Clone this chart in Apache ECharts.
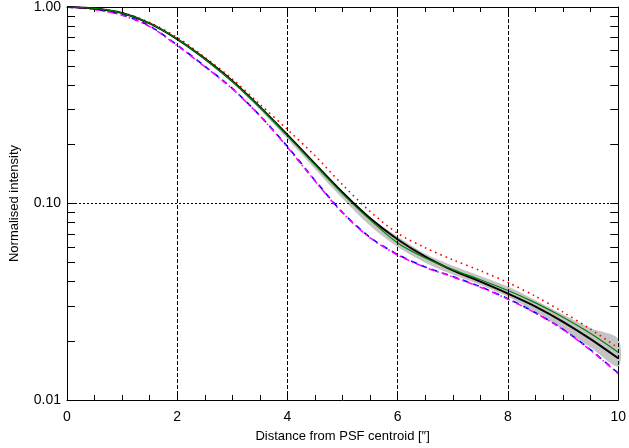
<!DOCTYPE html>
<html>
<head>
<meta charset="utf-8">
<script src="https://cdn.jsdelivr.net/npm/echarts@6/dist/echarts.min.js"></script>
<style>
  html, body { margin: 0; padding: 0; background: #fff; }
  #main { width: 629px; height: 448px; }
</style>
</head>
<body>
<div id="main"></div>
<script>
// radius in arcsec
var radius = [0, 0.5, 1, 1.5, 2, 2.5, 3, 3.5, 4, 4.5, 5, 5.5, 6, 6.5, 7, 7.5, 8, 8.5, 9, 9.5, 10];

var blackVals   = [1.0, 0.983, 0.932, 0.826, 0.687, 0.546, 0.42, 0.31, 0.2234, 0.159, 0.1138, 0.0841, 0.0656, 0.0537, 0.0457, 0.040, 0.0348, 0.0299, 0.025, 0.0204, 0.0163];
var greenVals   = [1.0, 0.983, 0.932, 0.826, 0.687, 0.544, 0.418, 0.308, 0.221, 0.157, 0.112, 0.0825, 0.063, 0.0528, 0.0461, 0.0409, 0.0361, 0.0312, 0.0264, 0.0218, 0.0175];
var redVals     = [1.0, 0.985, 0.937, 0.833, 0.70, 0.555, 0.43, 0.32, 0.238, 0.175, 0.1245, 0.091, 0.0705, 0.0595, 0.0517, 0.0455, 0.0396, 0.0337, 0.028, 0.0229, 0.0184];
var blueVals    = [1.0, 0.975, 0.912, 0.80, 0.64, 0.5, 0.385, 0.28, 0.195, 0.131, 0.09, 0.0672, 0.055, 0.0475, 0.0425, 0.0377, 0.0328, 0.0278, 0.0229, 0.018, 0.0137];
var magentaVals = [1.0, 0.973, 0.908, 0.795, 0.636, 0.497, 0.383, 0.279, 0.193, 0.13, 0.0895, 0.0668, 0.0547, 0.0473, 0.0423, 0.0375, 0.0326, 0.0277, 0.0228, 0.0179, 0.0136];
var bandLow     = [1.0, 0.981, 0.927, 0.818, 0.678, 0.535, 0.41, 0.30, 0.213, 0.15, 0.106, 0.077, 0.060, 0.050, 0.0435, 0.0385, 0.0335, 0.028, 0.0228, 0.0185, 0.0148];
var bandHigh    = [1.0, 0.985, 0.936, 0.831, 0.692, 0.55, 0.423, 0.312, 0.226, 0.161, 0.115, 0.085, 0.0677, 0.0555, 0.0482, 0.0428, 0.0378, 0.0322, 0.0272, 0.0232, 0.0205];

var yTicks = [0.01, 0.02, 0.03, 0.04, 0.05, 0.06, 0.07, 0.08, 0.09,
              0.1, 0.2, 0.3, 0.4, 0.5, 0.6, 0.7, 0.8, 0.9, 1.0];
var yLabels = [0.01, 0.1, 1.0];
var yGrid = [0.1];

function pairs(vals) {
    return radius.map(function (r, i) { return [r, vals[i]]; });
}

var font = 'Liberation Sans';
var chart = echarts.init(document.getElementById('main'));

var axisLine = { show: true, onZero: false, lineStyle: { color: '#000', width: 1 } };

// grey uncertainty band as one polygon through the axis scales
function renderBand(params, api) {
    if (params.dataIndex !== 0) return;
    var pts = [];
    for (var i = 0; i < radius.length; i++) pts.push(api.coord([radius[i], bandHigh[i]]));
    for (var j = radius.length - 1; j >= 0; j--) pts.push(api.coord([radius[j], bandLow[j]]));
    return {
        type: 'polygon',
        shape: { points: pts, smooth: 0.3 },
        style: { fill: '#c4c4c4', stroke: null }
    };
}

chart.setOption({
    animation: false,
    backgroundColor: '#fff',
    grid: { left: 64, right: 9, top: 5, bottom: 47 },
    xAxis: [
        {
            type: 'value', min: 0, max: 10, interval: 2,
            name: 'Distance from PSF centroid [\u2033]',
            nameLocation: 'middle', nameGap: 30,
            nameTextStyle: { fontFamily: font, fontSize: 13, color: '#000' },
            axisLine: axisLine,
            axisTick: { show: true, inside: true, length: 6, lineStyle: { color: '#000' } },
            minorTick: { show: true, splitNumber: 4, length: 5, lineStyle: { color: '#000' } },
            axisLabel: { fontFamily: font, fontSize: 14, color: '#000', margin: 10 },
            splitLine: { show: true, lineStyle: { color: '#000', type: [4, 2], width: 1 } },
            z: 5
        },
        {
            type: 'value', min: 0, max: 10, interval: 2, position: 'top',
            axisLine: axisLine,
            axisTick: { show: true, inside: true, length: 6, lineStyle: { color: '#000' } },
            minorTick: { show: true, splitNumber: 4, length: 5, lineStyle: { color: '#000' } },
            axisLabel: { show: false },
            splitLine: { show: false }
        }
    ],
    yAxis: [
        {
            type: 'log', logBase: 10, min: 0.01, max: 1,
            name: 'Normalised intensity',
            nameLocation: 'middle', nameGap: 46,
            nameTextStyle: { fontFamily: font, fontSize: 13, color: '#000' },
            axisLine: axisLine,
            axisTick: { show: true, inside: true, length: 8, customValues: yTicks, lineStyle: { color: '#000' } },
            axisLabel: {
                fontFamily: font, fontSize: 14, color: '#000', margin: 6,
                customValues: yLabels,
                formatter: function (v) { return v.toFixed(2); }
            },
            splitLine: { show: false }
        },
        {
            type: 'log', logBase: 10, min: 0.01, max: 1, position: 'right',
            axisLine: axisLine,
            axisTick: { show: true, inside: true, length: 8, customValues: yTicks, lineStyle: { color: '#000' } },
            axisLabel: { show: false },
            splitLine: { show: false }
        }
    ],
    series: [
        {
            name: 'band', type: 'custom', renderItem: renderBand,
            data: pairs(bandLow), silent: true, z: 1
        },
        {
            name: 'red', type: 'line', smooth: 0.3, symbol: 'none', data: pairs(redVals),
            lineStyle: { color: '#ff0000', width: 1.6, type: [1.6, 4] }, z: 3
        },
        {
            name: 'blue', type: 'line', smooth: 0.3, symbol: 'none', data: pairs(blueVals),
            lineStyle: { color: '#0000ff', width: 1.6, type: [6, 5] }, z: 3
        },
        {
            name: 'magenta', type: 'line', smooth: 0.3, symbol: 'none', data: pairs(magentaVals),
            lineStyle: { color: '#ff00ff', width: 1.6, type: [6, 3, 1.5, 3] }, z: 3
        },
        {
            name: 'black', type: 'line', smooth: 0.3, symbol: 'none', data: pairs(blackVals),
            lineStyle: { color: '#000000', width: 2 }, z: 3,
            markLine: {
                silent: true, symbol: 'none', label: { show: false },
                lineStyle: { color: '#000', type: [2, 2], width: 1 },
                data: yGrid.map(function (v) { return { yAxis: v }; })
            }
        },
        {
            name: 'green', type: 'line', smooth: 0.3, symbol: 'none', data: pairs(greenVals),
            lineStyle: { color: '#008000', width: 1.2 }, z: 3
        }
    ]
});
</script>
</body>
</html>
